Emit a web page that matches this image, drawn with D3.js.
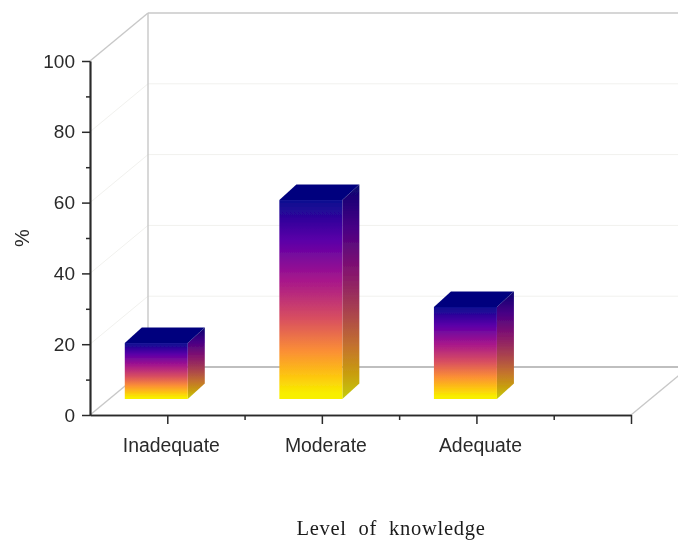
<!DOCTYPE html>
<html><head><meta charset="utf-8">
<script src="https://cdnjs.cloudflare.com/ajax/libs/d3/7.8.5/d3.min.js"></script>
<style>html,body{margin:0;padding:0;background:#fff;overflow:hidden}svg{display:block}</style>
</head><body><svg id="c" width="678" height="541"></svg>
<script>
const categories = ["Inadequate","Moderate","Adequate"];
const values = [15.8, 56.2, 26];
const yTicks = [0,20,40,60,80,100];
const yMinor = [10,30,50,70,90];
const xMajor = [1,2,3,4];
const xMinor = [1.5,2.5,3.5];
const frontStops = [[0,"#0c0a90"],[0.2,"#5a00a8"],[0.4,"#a6158c"],[0.6,"#d9505f"],[0.76,"#fb8f35"],[0.89,"#fdc80e"],[0.97,"#f8ee00"],[1,"#f8f000"]];
const sideStops = [[0,"#0a0870"],[0.2,"#470085"],[0.4,"#84136f"],[0.6,"#ab444d"],[0.76,"#c4742c"],[0.89,"#c8a00c"],[1,"#c4cc10"]];

const W=678,H=541;
const svg=d3.select("#c");
const x=d3.scaleLinear().domain([0.5,4]).range([90,631]);
const y=d3.scaleLinear().domain([0,100]).range([415,61]);
const depth={x:58,y:-48};
const barDepth={x:17,y:-15.5};
const barFront={x:-42.5,y:-16,w:63};

const defs=svg.append("defs");
const f=defs.append("filter").attr("id","soft").attr("x","-5%").attr("y","-5%").attr("width","110%").attr("height","110%");
f.append("feGaussianBlur").attr("stdDeviation",0.7);
function grad(id,stops){
  const g=defs.append("linearGradient").attr("id",id).attr("x1",0).attr("y1",0).attr("x2",0).attr("y2",1);
  stops.forEach(s=>g.append("stop").attr("offset",s[0]).attr("stop-color",s[1]));
}
grad("front",frontStops);grad("side",sideStops);

const root=svg.append("g").attr("filter","url(#soft)");
root.append("rect").attr("width",W).attr("height",H).attr("fill","#fff");
const X0=x(0.5),X1=x(4);

yTicks.filter(v=>v>0&&v<100).forEach(v=>{
  root.append("line").attr("x1",X0+depth.x).attr("x2",W).attr("y1",y(v)+depth.y).attr("y2",y(v)+depth.y).attr("stroke","#f1f1ee").attr("stroke-width",1);
  root.append("line").attr("x1",X0).attr("x2",X0+depth.x).attr("y1",y(v)).attr("y2",y(v)+depth.y).attr("stroke","#f1f1ee").attr("stroke-width",1);
});
const frame="#c8c8c8";
root.append("line").attr("x1",X0+depth.x).attr("x2",X0+depth.x).attr("y1",y(100)+depth.y).attr("y2",y(0)+depth.y).attr("stroke",frame).attr("stroke-width",1.4);
root.append("line").attr("x1",X0+depth.x).attr("x2",W).attr("y1",y(100)+depth.y).attr("y2",y(100)+depth.y).attr("stroke",frame).attr("stroke-width",1.4);
root.append("line").attr("x1",X0).attr("x2",X0+depth.x).attr("y1",y(100)).attr("y2",y(100)+depth.y).attr("stroke",frame).attr("stroke-width",1.4);
root.append("line").attr("x1",X0).attr("x2",X0+depth.x).attr("y1",y(0)).attr("y2",y(0)+depth.y).attr("stroke",frame).attr("stroke-width",1.4);
root.append("line").attr("x1",X0+depth.x).attr("x2",W).attr("y1",y(0)+depth.y).attr("y2",y(0)+depth.y).attr("stroke","#aaa").attr("stroke-width",1.3);
root.append("line").attr("x1",X1).attr("x2",X1+depth.x).attr("y1",y(0)).attr("y2",y(0)+depth.y).attr("stroke",frame).attr("stroke-width",1.4);

const pts=a=>a.map(p=>p.join(",")).join(" ");
categories.forEach((c,i)=>{
  const l=x(i+1)+barFront.x, r=l+barFront.w, b=y(0)+barFront.y, t=y(values[i])+barFront.y;
  const dx=barDepth.x, dy=barDepth.y;
  root.append("polygon").attr("points",pts([[r,b],[r+dx,b+dy],[r+dx,t+dy],[r,t]])).attr("fill","url(#side)");
  root.append("polygon").attr("points",pts([[l,t],[l+dx,t+dy],[r+dx,t+dy],[r,t]])).attr("fill","#04047e");
  root.append("rect").attr("x",l).attr("y",t).attr("width",barFront.w).attr("height",b-t).attr("fill","url(#front)");
});

const ax="#2a2a2a";
const yAxis=root.append("g").attr("transform",`translate(${X0},0)`)
  .call(d3.axisLeft(y).tickValues(yTicks).tickSize(8).tickPadding(7).tickSizeOuter(0));
const yAxisMinor=root.append("g").attr("transform",`translate(${X0},0)`)
  .call(d3.axisLeft(y).tickValues(yMinor).tickSize(4).tickFormat("").tickSizeOuter(0));
const xAxis=root.append("g").attr("transform",`translate(0,${y(0)})`)
  .call(d3.axisBottom(x).tickValues(xMajor).tickSize(9).tickPadding(14).tickSizeOuter(0)
    .tickFormat(d=>categories[d-1]||""));
const xAxisMinor=root.append("g").attr("transform",`translate(0,${y(0)})`)
  .call(d3.axisBottom(x).tickValues(xMinor).tickSize(5).tickFormat("").tickSizeOuter(0));
[yAxis,yAxisMinor,xAxis,xAxisMinor].forEach(g=>{
  g.selectAll("path.domain").attr("stroke",ax).attr("stroke-width",1.7);
  g.selectAll("line").attr("stroke",ax).attr("stroke-width",1.5);
  g.selectAll("text").attr("fill","#2a2a2a").attr("font-family","'Liberation Sans',Arial,sans-serif").attr("font-size",19);
});
xAxis.selectAll("text").attr("font-size",19.4).attr("dx",3.5);

root.append("text").attr("transform","translate(29,238) rotate(-90)").attr("text-anchor","middle")
  .attr("font-family","'Liberation Sans',Arial,sans-serif").attr("font-size",20).attr("fill","#2a2a2a").text("%");
root.append("text").attr("x",391).attr("y",535).attr("text-anchor","middle")
  .attr("font-family","'Liberation Serif',serif").attr("font-size",20.5).attr("fill","#1a1a1a")
  .attr("letter-spacing",0.75).style("white-space","pre").text("Level  of  knowledge");
</script></body></html>
